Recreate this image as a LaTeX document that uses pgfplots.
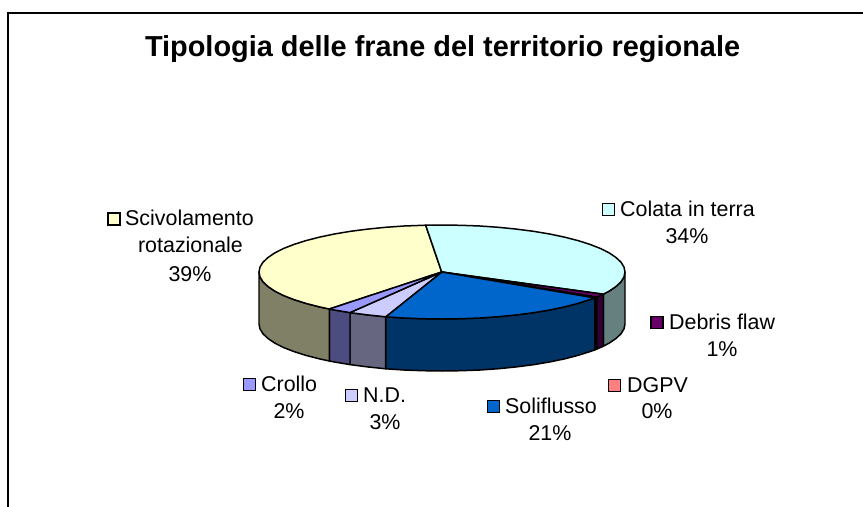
\documentclass[border=0pt]{standalone}
\usepackage{fontspec}
\setmainfont{Liberation Sans}
\usepackage{pgfplots}
\pgfplotsset{compat=1.18}
\definecolor{cCol}{HTML}{CCFFFF}\definecolor{cColS}{HTML}{668080}
\definecolor{cDeb}{HTML}{660066}\definecolor{cDebS}{HTML}{330033}
\definecolor{cDgp}{HTML}{FF8080}\definecolor{cDgpS}{HTML}{804040}
\definecolor{cSol}{HTML}{0066CC}\definecolor{cSolS}{HTML}{003366}
\definecolor{cNd}{HTML}{CCCCFF}\definecolor{cNdS}{HTML}{666680}
\definecolor{cCro}{HTML}{9999FF}\definecolor{cCroS}{HTML}{4C4C80}
\definecolor{cSci}{HTML}{FFFFCC}\definecolor{cSciS}{HTML}{808066}
\pgfplotsset{
  slice/.style={fill=#1,draw=black,line width=1.5pt,line join=round,mark=none,forget plot},
  key/.style={only marks,mark=square*,mark size=6.2pt,mark options={fill=#1,draw=black,line width=1.5pt},forget plot}}
\tikzset{
  lab/.style={anchor=base west,inner sep=0pt,font=\fontsize{21.5}{24}\selectfont},
  pct/.style={anchor=base,inner sep=0pt,font=\fontsize{21.5}{24}\selectfont}}
\begin{document}
\begin{tikzpicture}
\begin{axis}[
  at={(0,0)},anchor=south west,
  x=1bp,y=1bp,xmin=0,xmax=863,ymin=0,ymax=507,y dir=reverse,
  axis lines=none,scale only axis,
  title={\fontsize{29}{32}\selectfont\bfseries Tipologia delle frane del territorio regionale},
  title style={at={(0.5128,0.8767)},anchor=base,inner sep=0pt,yshift=0pt}]
% frame
\addplot[black,line width=1.1pt,mark=none,forget plot] coordinates {(8,507)(8,13)(863,13)};
% side faces
\addplot[slice=cColS] coordinates {(603.3,294.2)(609.2,291.1)(616,286.5)(621,281.8)(624,276.9)(625,272)(625,324)(624,328.9)(621,333.8)(616,338.5)(609.2,343.1)(603.3,346.2)} -- cycle;
\addplot[slice=cDebS] coordinates {(596.6,297.1)(600.5,295.5)(603.3,294.2)(603.3,346.2)(600.5,347.5)(596.6,349.1)} -- cycle;
\addplot[slice=cDgpS] coordinates {(594.8,297.9)(596.6,297.1)(596.6,349.1)(594.8,349.9)} -- cycle;
\addplot[slice=cSolS] coordinates {(385.7,316.8)(404,318)(422.9,318.7)(442,319)(461.1,318.7)(480,318)(498.5,316.7)(516.4,314.9)(533.5,312.7)(549.6,310)(564.4,306.9)(578,303.4)(590,299.6)(594.8,297.9)(594.8,349.9)(590,351.6)(578,355.4)(564.4,358.9)(549.6,362)(533.5,364.7)(516.4,366.9)(498.5,368.7)(480,370)(461.1,370.7)(442,371)(422.9,370.7)(404,370)(385.7,368.8)} -- cycle;
\addplot[slice=cNdS] coordinates {(350,312.6)(367.6,314.9)(385.7,316.8)(385.7,368.8)(367.6,366.9)(350,364.6)} -- cycle;
\addplot[slice=cCroS] coordinates {(329.3,309)(334.4,310)(350,312.6)(350,364.6)(334.4,362)(329.3,361)} -- cycle;
\addplot[slice=cSciS] coordinates {(259,272)(260,276.9)(263,281.8)(268,286.5)(274.8,291.1)(283.5,295.5)(294,299.6)(306,303.4)(319.6,306.9)(329.3,309)(329.3,361)(319.6,358.9)(306,355.4)(294,351.6)(283.5,347.5)(274.8,343.1)(268,338.5)(263,333.8)(260,328.9)(259,324)} -- cycle;
% top faces
\addplot[slice=cSci] coordinates {(441.7,272)(329.3,309)(319.6,306.9)(306,303.4)(294,299.6)(283.5,295.5)(274.8,291.1)(268,286.5)(263,281.8)(260,276.9)(259,272)(260,267.1)(263,262.2)(268,257.5)(274.8,252.9)(283.5,248.5)(294,244.4)(306,240.6)(319.6,237.1)(334.4,234)(350.5,231.3)(367.6,229.1)(385.5,227.3)(404,226)(422.9,225.3)(425.7,225.2)} -- cycle;
\addplot[slice=cCol] coordinates {(441.7,272)(425.7,225.2)(442,225)(461.1,225.3)(480,226)(498.5,227.3)(516.4,229.1)(533.5,231.3)(549.6,234)(564.4,237.1)(578,240.6)(590,244.4)(600.5,248.5)(609.2,252.9)(616,257.5)(621,262.2)(624,267.1)(625,272)(624,276.9)(621,281.8)(616,286.5)(609.2,291.1)(603.3,294.2)} -- cycle;
\addplot[slice=cDeb] coordinates {(441.7,272)(603.3,294.2)(600.5,295.5)(596.6,297.1)} -- cycle;
\addplot[slice=cDgp] coordinates {(441.7,272)(596.6,297.1)(594.8,297.9)} -- cycle;
\addplot[slice=cSol] coordinates {(441.7,272)(594.8,297.9)(590,299.6)(578,303.4)(564.4,306.9)(549.6,310)(533.5,312.7)(516.4,314.9)(498.5,316.7)(480,318)(461.1,318.7)(442,319)(422.9,318.7)(404,318)(385.7,316.8)} -- cycle;
\addplot[slice=cNd] coordinates {(441.7,272)(385.7,316.8)(367.6,314.9)(350,312.6)} -- cycle;
\addplot[slice=cCro] coordinates {(441.7,272)(350,312.6)(334.4,310)(329.3,309)} -- cycle;
% label keys
\addplot[key=cCol] coordinates {(608.5,209.5)};
\addplot[key=cSci] coordinates {(114,219)};
\addplot[key=cDeb] coordinates {(657,322.5)};
\addplot[key=cDgp] coordinates {(614.5,385.5)};
\addplot[key=cSol] coordinates {(493.5,406.5)};
\addplot[key=cNd] coordinates {(351.5,395.5)};
\addplot[key=cCro] coordinates {(249.5,384.5)};
% labels
\node[lab] at (axis cs:620,216) {Colata in terra};
\node[pct] at (axis cs:687,243) {34\%};
\node[lab] at (axis cs:125,225) {Scivolamento};
\node[pct] at (axis cs:190.5,252.5) {rotazionale};
\node[pct] at (axis cs:190,281) {39\%};
\node[lab] at (axis cs:669,329) {Debris flaw};
\node[pct] at (axis cs:722,356) {1\%};
\node[lab] at (axis cs:627,392) {DGPV};
\node[pct] at (axis cs:657,418) {0\%};
\node[lab] at (axis cs:505,413) {Soliflusso};
\node[pct] at (axis cs:550,440) {21\%};
\node[lab] at (axis cs:363,402) {N.D.};
\node[pct] at (axis cs:385,429) {3\%};
\node[lab] at (axis cs:261,391) {Crollo};
\node[pct] at (axis cs:289,418) {2\%};
\end{axis}
\path[use as bounding box] (0,0) rectangle (863bp,507bp);
\end{tikzpicture}
\end{document}
